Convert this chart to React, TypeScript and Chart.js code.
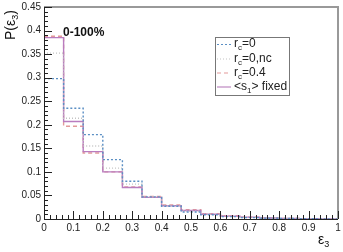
import React, { useEffect, useRef } from "react";
import { Chart, registerables } from "chart.js";
Chart.register(...registerables);

const binEdges = [0, 0.0667, 0.1333, 0.2, 0.2667, 0.3333, 0.4, 0.4667, 0.5333, 0.6, 0.6667, 0.7333, 0.8, 0.8667, 0.9333, 1];
const rc0 = [0.298, 0.235, 0.179, 0.126, 0.080, 0.047, 0.027, 0.015, 0.009, 0.005, 0.003, 0.0015, 0.001, 0.0005, 0.0003];
const rc0nc = [0.352, 0.214, 0.155, 0.108, 0.074, 0.047, 0.028, 0.017, 0.010, 0.006, 0.004, 0.002, 0.001, 0.0005, 0.0003];
const rc04 = [0.388, 0.197, 0.140, 0.100, 0.068, 0.048, 0.030, 0.020, 0.011, 0.007, 0.004, 0.002, 0.001, 0.0006, 0.0003];
const s1fixed = [0.385, 0.207, 0.143, 0.100, 0.067, 0.046, 0.028, 0.018, 0.010, 0.006, 0.004, 0.002, 0.001, 0.0005, 0.0003];

const yTicks = [0, 0.05, 0.1, 0.15, 0.2, 0.25, 0.3, 0.35, 0.4, 0.45];
const yTickLabels = ["0", "0.05", "0.1", "0.15", "0.2", "0.25", "0.3", "0.35", "0.4", "0.45"];
const xTicks = [0, 0.1, 0.2, 0.3, 0.4, 0.5, 0.6, 0.7, 0.8, 0.9, 1];
const xTickLabels = ["0", "0.1", "0.2", "0.3", "0.4", "0.5", "0.6", "0.7", "0.8", "0.9", "1"];

const FONT = '"Liberation Sans", Arial, Helvetica, sans-serif';

type Entry = { pre: string; sub: string; rest: string; color: string; dash: number[]; width: number };
const legendEntries: Entry[] = [
  { pre: "r", sub: "c", rest: "=0", color: "#5b8fc4", dash: [2, 2], width: 1.2 },
  { pre: "r", sub: "c", rest: "=0,nc", color: "#c4c4c4", dash: [1, 2], width: 1.2 },
  { pre: "r", sub: "c", rest: "=0.4", color: "#e39a9a", dash: [4, 3], width: 1.2 },
  { pre: "<s", sub: "1", rest: "> fixed", color: "#c79acb", dash: [], width: 1.4 },
];

function steps(vals: number[]) {
  const pts = vals.map((v, i) => ({ x: binEdges[i], y: v }));
  pts.push({ x: binEdges[vals.length], y: vals[vals.length - 1] });
  return pts;
}

const decor = {
  id: "decor",
  afterDraw(chart: any) {
    const ctx = chart.ctx as CanvasRenderingContext2D;
    const xs = chart.scales.x;
    const ys = chart.scales.y;
    const a = chart.chartArea;
    ctx.save();
    ctx.strokeStyle = "#999";
    ctx.lineWidth = 2;
    ctx.setLineDash([]);
    ctx.beginPath();
    ctx.moveTo(a.left, a.top);
    ctx.lineTo(a.right, a.top);
    ctx.lineTo(a.right, a.bottom);
    ctx.stroke();
    ctx.strokeStyle = "#222";
    ctx.lineWidth = 1;
    ctx.beginPath();
    ctx.moveTo(a.left + 0.5, a.top);
    ctx.lineTo(a.left + 0.5, a.bottom + 0.5);
    ctx.lineTo(a.right, a.bottom + 0.5);
    ctx.stroke();
    ctx.beginPath();
    for (let k = 0; k <= 45; k++) {
      const py = Math.round(ys.getPixelForValue(k * 0.01)) + 0.5;
      const len = k % 5 === 0 ? 8 : 4;
      ctx.moveTo(a.left, py);
      ctx.lineTo(a.left + len, py);
    }
    for (let k = 0; k <= 50; k++) {
      const px = Math.round(xs.getPixelForValue(k * 0.02)) + 0.5;
      const len = k % 5 === 0 ? 8 : 4;
      ctx.moveTo(px, a.bottom);
      ctx.lineTo(px, a.bottom - len);
    }
    ctx.stroke();
    ctx.fillStyle = "#222";
    ctx.font = `10px ${FONT}`;
    ctx.textAlign = "right";
    ctx.textBaseline = "middle";
    yTicks.forEach((v, i) => {
      ctx.fillText(yTickLabels[i], a.left - 3, ys.getPixelForValue(v));
    });
    ctx.textAlign = "center";
    ctx.textBaseline = "top";
    xTicks.forEach((v, i) => {
      ctx.fillText(xTickLabels[i], xs.getPixelForValue(v), a.bottom + 4);
    });
    // x title
    ctx.fillStyle = "#111";
    ctx.font = `14px ${FONT}`;
    ctx.textAlign = "left";
    ctx.textBaseline = "alphabetic";
    ctx.fillText("ε", 318, 244);
    const ew = ctx.measureText("ε").width;
    ctx.font = `9px ${FONT}`;
    ctx.fillText("3", 318 + ew, 247);
    // y title rotated
    ctx.save();
    ctx.translate(15, 40);
    ctx.rotate(-Math.PI / 2);
    ctx.font = `14px ${FONT}`;
    let x0 = 0;
    ctx.fillText("P(ε", x0, 0);
    x0 += ctx.measureText("P(ε").width;
    ctx.font = `9px ${FONT}`;
    ctx.fillText("3", x0, 3);
    x0 += ctx.measureText("3").width;
    ctx.font = `14px ${FONT}`;
    ctx.fillText(")", x0, 0);
    ctx.restore();
    ctx.font = `bold 12px ${FONT}`;
    ctx.fillText("0-100%", 63, 36);
    // legend
    const lx = 215, ly = 37, lw = 74, lh = 58;
    ctx.fillStyle = "#fff";
    ctx.fillRect(lx, ly, lw, lh);
    ctx.strokeStyle = "#777";
    ctx.lineWidth = 1;
    ctx.strokeRect(lx + 0.5, ly + 0.5, lw, lh);
    const rows = [44, 58.5, 72.5, 86.5];
    legendEntries.forEach((e, i) => {
      const yy = rows[i];
      ctx.strokeStyle = e.color;
      ctx.lineWidth = e.width;
      ctx.setLineDash(e.dash);
      ctx.beginPath();
      ctx.moveTo(217, yy + 0.5);
      ctx.lineTo(231, yy + 0.5);
      ctx.stroke();
      ctx.setLineDash([]);
      ctx.fillStyle = "#222";
      ctx.textBaseline = "middle";
      ctx.textAlign = "left";
      let tx = 234;
      ctx.font = `12px ${FONT}`;
      ctx.fillText(e.pre, tx, yy);
      tx += ctx.measureText(e.pre).width;
      ctx.font = `8px ${FONT}`;
      ctx.fillText(e.sub, tx, yy + 4);
      tx += ctx.measureText(e.sub).width;
      ctx.font = `12px ${FONT}`;
      ctx.fillText(e.rest, tx, yy);
    });
    ctx.restore();
  },
};

export default function App() {
  const ref = useRef<HTMLCanvasElement>(null);
  useEffect(() => {
    document.body.style.margin = "0";
    const mk = (label: string, vals: number[], color: string, dash: number[], width: number) => ({
      label,
      data: steps(vals),
      borderColor: color,
      borderDash: dash,
      borderWidth: width,
      stepped: "before" as const,
      pointRadius: 0,
      fill: false,
    });
    const chart = new Chart(ref.current!, {
      type: "line",
      data: {
        datasets: [
          mk("rc=0", rc0, "#5b8fc4", [2, 2], 1.4),
          mk("rc=0,nc", rc0nc, "#c4c4c4", [1, 2], 1.4),
          mk("<s1> fixed", s1fixed, "#b97cbf", [], 1.4),
          mk("rc=0.4", rc04, "#e39a9a", [4, 3], 1.4),
        ],
      },
      options: {
        animation: false,
        responsive: false,
        devicePixelRatio: 1,
        layout: { padding: { left: 44, right: 5, top: 7, bottom: 33 } },
        plugins: { legend: { display: false }, tooltip: { enabled: false } },
        scales: {
          x: { type: "linear", min: 0, max: 1, display: false },
          y: { type: "linear", min: 0, max: 0.45, display: false },
        },
      },
      plugins: [decor],
    });
    return () => chart.destroy();
  }, []);
  return <canvas ref={ref} width={343} height={252} style={{ display: "block" }} />;
}
